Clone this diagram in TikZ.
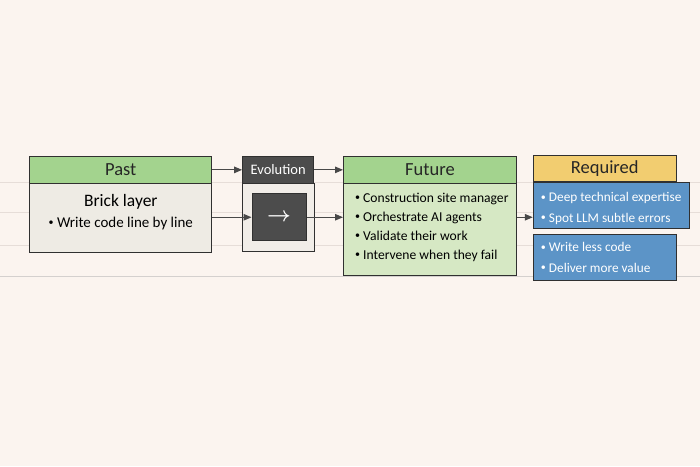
\documentclass[tikz,border=0pt]{standalone}
\usepackage{fontspec}
\setmainfont{Carlito}
\usetikzlibrary{arrows.meta,positioning,calc}
\definecolor{paper}{RGB}{251,244,239}
\definecolor{ruleline}{RGB}{230,221,216}
\definecolor{ink}{RGB}{48,48,48}
\definecolor{arrowgrey}{RGB}{72,72,72}
\definecolor{headgreen}{RGB}{163,211,142}
\definecolor{pastfill}{RGB}{238,235,228}
\definecolor{futfill}{RGB}{214,232,196}
\definecolor{evodark}{RGB}{76,76,76}
\definecolor{evofill}{RGB}{241,237,232}
\definecolor{reqyellow}{RGB}{242,205,112}
\definecolor{reqblue}{RGB}{92,148,199}
\newcommand\itemdot{\raisebox{0.25ex}{\fontsize{10}{10}\selectfont\textbullet}\ }

\begin{document}
\begin{tikzpicture}[x=1pt, y=-1pt,
    box/.style={rectangle, draw=ink, line width=1.1pt, anchor=north west, inner sep=0pt},
    head/.style={box, fill=headgreen, minimum height=27pt, text=black!85,
                 font=\fontsize{18.5}{20}\selectfont},
    items/.style={align=left, anchor=west, inner sep=0pt, font=\fontsize{13.6}{19}\selectfont},
    skills/.style={items, text=white, font=\fontsize{13.3}{20.5}\selectfont},
    link/.style={draw=arrowgrey, line width=1.1pt, -{Triangle[length=8pt,width=6.5pt]}},
    rule/.style={draw=ruleline, line width=0.8pt}
]
    % paper and faint ruling
    \fill[paper] (0,0) rectangle (700,467);
    \draw[rule] (0,183) -- (700,183);
    \draw[rule] (0,213) -- (700,213);
    \draw[rule] (0,246) -- (700,246);
    \draw[rule, draw=ruleline!80!black!60] (0,277) -- (700,277);

    % past
    \node[head, minimum width=182pt] (pasthead) at (29,156) {Past};
    \node[box, fill=pastfill, minimum width=182pt, minimum height=69pt] (pastbody) at (29,183) {};
    \node[align=center, font=\fontsize{15}{21}\selectfont] (pasttext) at ($(pastbody.north)+(0,29)$)
        {{\fontsize{17.5}{21}\selectfont Brick layer}\\ \itemdot Write code line by line};

    % evolution
    \node[box, fill=evodark, text=white, minimum width=71pt, minimum height=27pt,
          font=\fontsize{14.5}{16}\selectfont] (evohead) at (242,156) {Evolution};
    \node[box, fill=evofill, minimum width=72pt, minimum height=68pt] (evobody) at (242,183) {};
    \node[box, anchor=center, fill=evodark, text=white, minimum width=54pt, minimum height=47pt,
          font=\huge\boldmath] (evostep) at (279,217.5) {$\rightarrow$};

    % future
    \node[head, minimum width=173pt] (futhead) at (343,156) {Future};
    \node[box, fill=futfill, minimum width=173pt, minimum height=92pt] (futbody) at (343,183) {};
    \node[items, right=12pt of futbody.west, yshift=2pt] (futtext)
        {\itemdot Construction site manager\\
         \itemdot Orchestrate AI agents\\
         \itemdot Validate their work\\
         \itemdot Intervene when they fail};

    % required
    \node[head, fill=reqyellow, minimum width=143pt, minimum height=26pt] (reqhead) at (533,155) {Required};
    \node[box, fill=reqblue, minimum width=156pt, minimum height=46pt] (reqskills) at (533,182) {};
    \node[skills, right=8pt of reqskills.west, yshift=-3pt] (reqskilltext)
        {\itemdot Deep technical expertise\\
         \itemdot Spot LLM subtle errors};
    \node[box, fill=reqblue, minimum width=143pt, minimum height=46pt] (reqgain) at (533,234) {};
    \node[skills, right=8pt of reqgain.west] (reqgaintext)
        {\itemdot Write less code\\
         \itemdot Deliver more value};

    % arrows
    \draw[link] (pasthead.east) -- (pasthead.east -| evohead.west);
    \draw[link] (evohead.east) -- (evohead.east -| futhead.west);
    \draw[link] (pastbody.east |- evostep) -- (evostep.west);
    \draw[link] (evostep.east) -- (evostep -| futbody.west);
    \draw[link] (futbody.east |- evostep) -- (evostep -| reqskills.west);
\end{tikzpicture}
\end{document}
